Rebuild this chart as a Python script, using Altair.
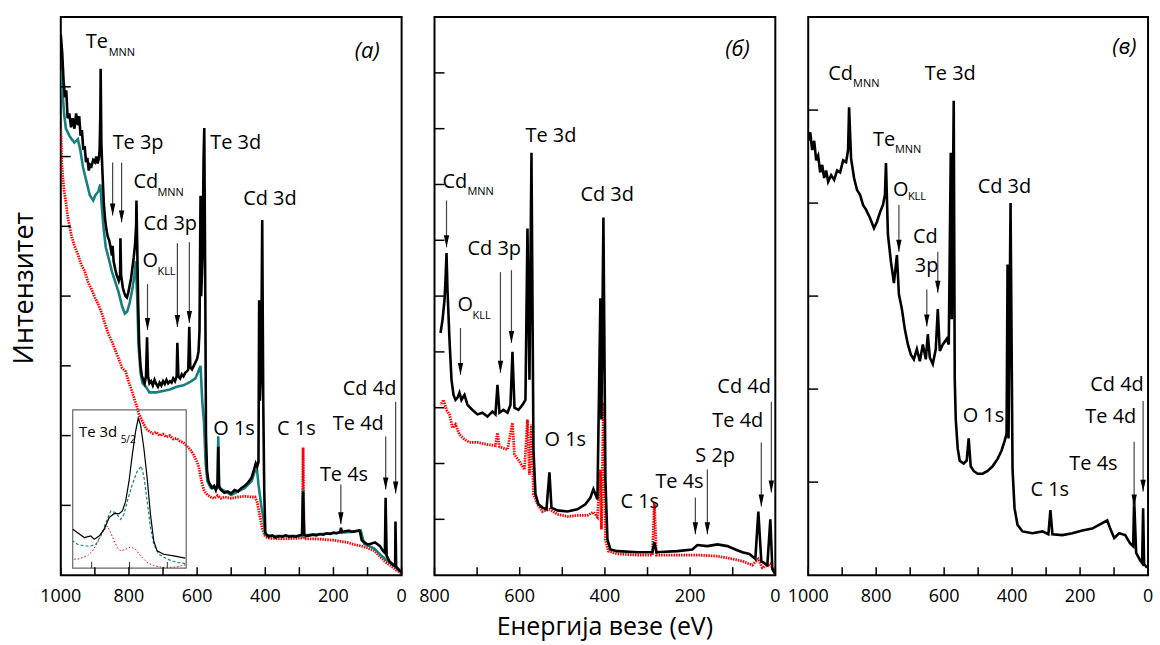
import altair as alt
import pandas as pd

# ---------------- survey spectra: (binding energy / eV, intensity / a.u.) ----------------
# panel (а): three samples
A_BLACK = [(1000,7.75),(996,7.5),(992,7.1),(988,6.85),(984,6.95),(980,6.55),(975,6.62),(970,6.42),(965,6.55),
           (960,6.40),(955,6.62),(950,6.45),(946,6.58),(942,6.30),(938,6.38),(934,6.10),(930,6.15),(926,5.92),
           (922,5.98),(918,5.80),(914,5.88),(910,5.86),(905,5.95),(900,5.92),(896,6.0),(892,5.90),(888,5.98),
           (886,6.1),(884,6.6),(883,7.26),(881,6.2),(878,5.8),(874,5.35),(870,5.1),(866,4.95),(862,4.85),
           (858,4.80),(854,4.70),(850,4.58),(848,4.72),(845,4.50),(840,4.38),(836,4.30),(830,4.22),(826,4.30),
           (825,4.83),(823,4.30),(818,4.12),(814,4.05),(810,4.0),(806,3.98),(802,4.05),(798,4.15),(794,4.25),
           (790,4.40),(786,4.55),(782,4.75),(779,5.0),(778,5.37),(776,4.8),(773,3.9),(770,3.3),(766,3.0),
           (762,2.85),(758,2.80),(754,2.75),(750,2.85),(747,3.41),(744,2.85),(740,2.75),(735,2.78),(730,2.72),
           (725,2.80),(720,2.74),(715,2.70),(710,2.76),(705,2.72),(700,2.78),(695,2.74),(690,2.80),(685,2.75),
           (680,2.78),(675,2.76),(670,2.82),(665,2.78),(660,2.85),(658,3.33),(655,2.85),(650,2.82),(645,2.88),
           (640,2.85),(635,2.90),(630,2.92),(626,2.95),(623,3.56),(620,2.98),(615,2.95),(610,3.00),(605,3.05),
           (600,3.10),(596,3.20),(593,3.5),(590,5.44),(588,4.0),(584,4.6),(581,6.0),(579,6.41),(576,4.0),
           (574,2.0),(571,1.5),(567,1.35),(562,1.30),(556,1.25),(550,1.28),(545,1.22),(540,1.30),(538,1.84),
           (536,1.28),(530,1.22),(520,1.18),(510,1.20),(500,1.17),(490,1.22),(480,1.20),(470,1.25),(460,1.28),
           (450,1.33),(440,1.40),(432,1.53),(428,1.60),(424,1.55),(420,1.62),(418,3.94),(416,2.5),(412,3.0),
           (409,5.09),(406,2.5),(403,1.2),(400,0.61),(396,0.58),(390,0.55),(380,0.57),(370,0.54),(360,0.56),
           (350,0.55),(340,0.57),(330,0.55),(320,0.56),(310,0.55),(300,0.57),(292,0.58),(289,1.20),(286,0.58),
           (280,0.56),(270,0.57),(260,0.58),(250,0.57),(240,0.59),(230,0.58),(220,0.60),(210,0.59),(200,0.61),
           (190,0.60),(180,0.62),(178,0.68),(175,0.62),(165,0.63),(155,0.64),(145,0.62),(135,0.63),(125,0.64),
           (122,0.62),(117,0.50),(100,0.44),(90,0.45),(78,0.47),(64,0.42),(55,0.35),(49,0.32),(47,1.11),
           (44,0.28),(36,0.20),(25,0.15),(19,0.13),(18,0.77),(16,0.12),(8,0.08),(1,0.04)]
A_TEAL = [(1000,7.23),(996,7.0),(990,6.6),(985,6.4),(980,6.35),(975,6.3),(968,6.25),(960,6.2),(950,6.25),
          (943,6.1),(935,5.85),(925,5.65),(915,5.45),(905,5.37),(898,5.45),(890,5.5),(884,5.6),(880,5.3),
          (874,4.95),(868,4.7),(860,4.55),(850,4.35),(840,4.2),(830,4.05),(820,3.85),(812,3.75),(805,3.78),
          (798,3.9),(790,4.1),(784,4.3),(780,4.5),(776,4.0),(772,3.3),(766,2.9),(760,2.75),(750,2.7),
          (740,2.62),(720,2.62),(700,2.64),(680,2.66),(660,2.7),(640,2.72),(620,2.77),(605,2.82),(598,2.9),
          (590,3.0),(585,2.5),(580,2.2),(575,1.6),(570,1.35),(560,1.25),(540,1.25),(538,1.99),(535,1.25),
          (500,1.15),(460,1.25),(440,1.35),(430,1.5),(424,1.5),(420,1.3),(412,1.0),(405,0.8),(400,0.58),
          (380,0.56),(300,0.56),(292,0.57),(289,1.23),(286,0.57),(200,0.6),(150,0.62),(120,0.64),(110,0.45),
          (80,0.38),(60,0.28),(40,0.2),(20,0.12),(5,0.05)]
A_RED = [(1000,6.4),(997,5.9),(994,5.7),(990,5.5),(985,5.35),(980,5.15),(975,5.02),(968,4.85),(960,4.72),
         (950,4.6),(940,4.45),(930,4.36),(920,4.2),(910,4.1),(900,3.98),(890,3.88),(880,3.76),(870,3.6),
         (860,3.45),(850,3.35),(840,3.22),(830,3.1),(820,2.97),(810,2.92),(800,2.76),(790,2.62),(780,2.46),
         (770,2.3),(760,2.2),(750,2.1),(740,2.06),(730,2.03),(720,2.05),(710,2.0),(700,2.02),(690,1.98),
         (680,2.0),(670,1.95),(660,1.96),(650,1.92),(640,1.9),(630,1.85),(620,1.8),(610,1.72),(600,1.62),
         (595,1.55),(590,1.42),(585,1.3),(580,1.22),(575,1.18),(570,1.15),(560,1.12),(550,1.1),(540,1.14),
         (530,1.1),(520,1.12),(500,1.1),(480,1.12),(460,1.13),(440,1.12),(430,1.12),(424,1.05),(420,0.95),
         (416,0.85),(412,0.75),(408,0.65),(404,0.6),(400,0.55),(390,0.53),(350,0.52),(300,0.53),(292,0.53),
         (289,1.83),(286,0.52),(250,0.52),(200,0.5),(160,0.47),(140,0.44),(120,0.42),(100,0.39),(80,0.35),
         (60,0.25),(45,0.18),(30,0.13),(15,0.07),(1,0.03)]

# panel (б): two samples
B_BLACK = [(785.9,4.34),(781.2,4.57),(776.5,4.93),(774.2,5.29),(771.8,5.77),(769.5,5.11),(764.8,4.21),
           (760.1,3.50),(755.4,3.23),(750.7,3.14),(746.0,3.18),(741.4,3.27),(736.7,3.14),(729.6,3.23),
           (722.6,3.05),(710.9,2.96),(699.1,2.88),(687.4,2.91),(675.7,2.84),(663.9,2.93),(656.9,2.88),
           (652.2,3.41),(647.5,2.91),(638.1,2.96),(628.7,2.91),(621.7,3.05),(617.0,4.00),(612.3,3.00),
           (603.0,2.96),(593.6,3.05),(586.5,3.14),(581.8,6.21),(577.1,3.50),(572.4,7.57),(567.7,2.25),
           (563.0,1.45),(556.0,1.27),(546.6,1.21),(537.2,1.18),(530.2,1.84),(525.5,1.21),(511.4,1.16),
           (488.0,1.14),(464.5,1.18),(445.8,1.27),(434.0,1.39),(427.0,1.54),(422.3,1.45),(417.6,1.36),
           (410.6,4.96),(408.2,2.79),(403.5,6.41),(398.8,1.71),(394.1,0.64),(387.1,0.46),(370.7,0.43),
           (323.8,0.41),(288.6,0.41),(283.9,0.59),(279.2,0.41),(229.9,0.43),(194.7,0.46),(183.0,0.54),
           (159.5,0.52),(135.9,0.55),(112.5,0.52),(93.8,0.46),(77.4,0.41),(60.9,0.38),(46.9,0.29),
           (39.9,1.14),(32.9,0.25),(18.8,0.18),(11.7,1.00),(7.0,0.11),(0,0.02)]
B_RED = [(785.9,3.05),(778.9,3.14),(771.8,2.96),(764.8,2.88),(757.8,2.64),(750.7,2.70),(741.4,2.52),
         (729.6,2.43),(717.9,2.38),(699.1,2.38),(675.7,2.34),(656.9,2.32),(652.2,2.55),(647.5,2.30),
         (628.7,2.25),(617.0,2.73),(612.3,2.16),(600.6,2.04),(588.9,1.89),(581.8,2.79),(577.1,1.80),
         (572.4,2.70),(567.7,1.45),(558.4,1.27),(546.6,1.14),(530.2,1.18),(511.4,1.09),(488.0,1.05),
         (464.5,1.07),(441.1,1.07),(427.0,1.13),(417.6,1.04),(410.6,1.89),(408.2,0.82),(403.5,3.09),
         (398.8,0.64),(392.0,0.43),(370.7,0.38),(323.8,0.36),(288.6,0.36),(283.9,1.30),(279.2,0.36),
         (229.9,0.36),(183.0,0.36),(135.9,0.34),(100.8,0.29),(77.4,0.25),(53.9,0.18),(39.9,0.29),
         (30.5,0.13),(11.7,0.20),(0,0.02)]

# panel (в): one sample
C_BLACK = [(1000,4.67),(994.1,4.76),(988.3,4.57),(982.4,4.67),(976.5,4.46),(970.7,4.51),(964.8,4.33),
           (958.9,4.41),(953.1,4.27),(947.2,4.35),(941.3,4.23),(932.5,4.30),(923.7,4.25),(914.9,4.35),
           (906.1,4.33),(897.3,4.46),(888.5,4.44),(882.7,4.57),(879.7,5.03),(873.9,4.48),(865.1,4.27),
           (856.3,4.14),(847.5,4.09),(838.7,3.98),(829.9,3.93),(818.2,3.84),(806.4,3.73),(797.6,3.80),
           (788.8,3.90),(780.0,3.98),(774.2,4.09),(771.2,4.43),(765.4,3.66),(756.6,3.37),(747.8,3.14),
           (739.0,3.44),(733.1,3.02),(724.3,2.86),(715.5,2.64),(706.7,2.48),(697.9,2.37),(689.1,2.32),
           (680.3,2.43),(671.5,2.30),(662.7,2.48),(653.9,2.32),(648.1,2.59),(642.2,2.34),(633.4,2.27),
           (624.6,2.43),(618.7,2.86),(612.8,2.41),(604.0,2.48),(592.3,2.54),(586.4,2.48),(580.5,4.54),
           (577.6,2.75),(571.8,5.10),(568.8,2.11),(565.9,1.68),(560.0,1.36),(554.2,1.23),(542.5,1.20),
           (533.7,1.23),(527.8,1.47),(521.9,1.17),(513.1,1.12),(501.4,1.09),(486.7,1.09),(472.1,1.12),
           (457.4,1.17),(442.7,1.25),(431.0,1.34),(422.2,1.44),(416.3,1.52),(413.4,3.34),(410.5,1.47),
           (404.6,4.00),(398.7,1.14),(392.9,0.72),(384.1,0.54),(369.4,0.47),(340.1,0.45),(310.8,0.47),
           (293.2,0.44),(287.3,0.70),(281.4,0.44),(252.1,0.43),(222.7,0.45),(193.4,0.48),(164.1,0.50),
           (134.8,0.56),(120.1,0.59),(111.3,0.50),(99.6,0.40),(84.9,0.45),(67.3,0.43),(52.6,0.34),
           (43.8,0.31),(40.9,0.82),(35.0,0.24),(23.3,0.16),(17.4,0.13),(14.5,0.72),(11.6,0.12),(2.8,0.08)]

# inset of panel (а): Te 3d5/2 high-resolution region (energy / eV, normalised intensity)
INSET_BLACK = [(580.0,0.245),(579.48,0.224),(578.78,0.193),(578.08,0.203),(577.73,0.182),(577.20,0.203),
               (576.68,0.245),(576.15,0.319),(575.63,0.344),(575.10,0.344),(574.75,0.361),(574.40,0.423),
               (574.05,0.549),(573.70,0.717),(573.35,0.864),(573.07,0.948),(572.83,0.906),(572.48,0.759),
               (572.13,0.570),(571.78,0.340),(571.43,0.172),(571.08,0.109),(570.38,0.088),(569.33,0.078),
               (568.10,0.063)]
INSET_TEAL = [(580.0,0.172),(579.48,0.151),(578.78,0.140),(578.08,0.140),(577.55,0.151),(577.03,0.203),
              (576.50,0.287),(575.98,0.361),(575.45,0.350),(574.93,0.308),(574.58,0.340),(574.23,0.423),
              (573.70,0.528),(573.18,0.612),(572.76,0.644),(572.48,0.581),(572.13,0.423),(571.78,0.256),
              (571.43,0.151),(570.90,0.088),(570.03,0.057),(568.98,0.036),(568.10,0.029)]
INSET_RED = [(580.0,0.057),(579.48,0.057),(578.95,0.067),(578.43,0.078),(577.90,0.109),(577.38,0.161),
             (576.85,0.224),(576.33,0.266),(575.98,0.224),(575.63,0.172),(575.28,0.130),(574.93,0.109),
             (574.40,0.119),(573.88,0.134),(573.35,0.119),(572.83,0.078),(572.13,0.036),(571.43,0.015),
             (570.73,0.008),(570.03,0.004),(568.98,0.008),(568.10,0.021)]
INSET_E = [580, 568]          # inset energy range
INSET_I = [0, 1]              # inset intensity range
INSET_TICKS = [578, 574, 570]
# where the inset frame sits inside panel (а), in that panel's own units
INSET_BOX_E = [965, 632]
INSET_BOX_I = [0.10, 2.37]

# ---------------- axis tick values ----------------
A_XLABELS = [1000, 800, 600, 400, 200, 0]
B_XLABELS = [800, 600, 400, 200, 0]
C_XLABELS = [1000, 800, 600, 400, 200, 0]

# ---------------- peak labels (energy, intensity, text) and arrows (energy, from, to) ----------------
A_LABELS = [(926.9,7.557,"Te"),(847.9,6.114,"Te 3p"),(786.5,5.543,"Cd"),(757.3,4.943,"Cd 3p"),
            (760.2,4.414,"O"),(561.4,6.114,"Te 3d"),(464.9,5.3,"Cd 3d"),(552.6,2.014,"O 1s"),
            (365.5,2.014,"C 1s"),(239.8,1.343,"Te 4s"),(201.7,2.086,"Te 4d"),(172.5,2.586,"Cd 4d")]
A_SUBS = [(859.6,7.443,"MNN"),(716.4,5.429,"MNN"),(716.4,4.30,"KLL")]
A_TAG = [(137.4,7.414,"(а)")]
A_ARROWS = [(847.9,5.914,5.157),(821.6,5.914,5.057),(745.6,4.171,3.514),(657.9,4.757,3.557),
            (622.8,4.771,3.614),(178.3,1.30,0.729),(46.7,1.986,1.229),(17.5,2.486,1.171)]

B_LABELS = [(781.2,6.929,"Cd"),(586.5,7.768,"Te 3d"),(457.5,6.696,"Cd 3d"),(722.6,5.732,"Cd 3p"),
            (746.0,4.732,"O"),(541.9,2.321,"O 1s"),(363.6,1.196,"C 1s"),(281.5,1.554,"Te 4s"),
            (187.7,2.036,"S 2p"),(147.8,2.661,"Te 4d"),(136.1,3.268,"Cd 4d")]
B_SUBS = [(722.6,6.804,"MNN"),(710.9,4.589,"KLL")]
B_TAG = [(117.3,9.304,"(б)")]
B_ARROWS = [(771.8,6.714,5.875),(739.0,4.429,3.589),(645.2,5.429,3.625),(619.4,5.464,4.161),
            (187.7,1.393,0.732),(159.5,1.893,0.732),(32.9,2.375,1.232),(9.4,3.107,1.482)]

C_LABELS = [(941.3,5.326,"Cd"),(656.8,5.326,"Te 3d"),(809.4,4.610,"Te"),(750.7,4.075,"O"),
            (501.4,4.107,"Cd 3d"),(692.0,3.572,"Cd"),(686.2,3.262,"3p"),(545.4,1.647,"O 1s"),
            (345.9,0.856,"C 1s"),(231.6,1.134,"Te 4s"),(184.6,1.636,"Te 4d"),(170.0,1.979,"Cd 4d")]
C_SUBS = [(868.0,5.251,"MNN"),(744.8,4.535,"MNN"),(706.7,4.032,"KLL")]
C_TAG = [(105.4,5.604,"(в)")]
C_ARROWS = [(733.1,3.979,3.476),(651.0,3.070,2.674),(618.7,3.476,3.037),(40.9,1.433,0.738),(14.5,1.872,0.898)]

X_TITLE = "Енергија везе (eV)"
Y_TITLE = "Интензитет"

FONT = "Open Sans"
PLOT_H = 560


def df(rows, cols):
    return pd.DataFrame(rows, columns=cols)


def xenc(field, dom):
    return alt.X(field, type="quantitative", scale=alt.Scale(domain=dom, nice=False, zero=False), axis=None)


def yenc(field, dom):
    return alt.Y(field, type="quantitative", scale=alt.Scale(domain=dom, nice=False, zero=False), axis=None)


def to_box(chart, ifields=("I",)):
    """Map inset (energy, intensity) onto panel (а) units inside the inset frame."""
    e0, e1 = INSET_E
    i0, i1 = INSET_I
    b0, b1 = INSET_BOX_E
    c0, c1 = INSET_BOX_I
    calc = {"Ex": f"{b0} + (datum.E - {e0}) / ({e1} - {e0}) * ({b1} - {b0})"}
    for f in ifields:
        calc[f + "y"] = f"{c0} + (datum.{f} - {i0}) / ({i1} - {i0}) * ({c1} - {c0})"
    return chart.transform_calculate(**calc)


def inset_layers(xdom, ydom):
    layers = []
    box = alt.Chart(df([(INSET_BOX_E[0], INSET_BOX_E[1], INSET_BOX_I[0], INSET_BOX_I[1])],
                       ["E", "E2", "I", "I2"])).mark_rect(
        fillOpacity=0, stroke="#666666", strokeWidth=1.2).encode(
        x=xenc("E", xdom), x2="E2:Q", y=yenc("I", ydom), y2="I2:Q")
    layers.append(box)
    tk = to_box(alt.Chart(df([(t, 0.0, 0.04) for t in INSET_TICKS], ["E", "I", "J"])), ("I", "J"))
    layers.append(tk.mark_rule(color="#333333", strokeWidth=1).encode(
        x=xenc("Ex", xdom), y=yenc("Iy", ydom), y2="Jy:Q"))
    styles = [(INSET_RED, "#e00000", 1.0, [1.5, 2]), (INSET_TEAL, "#17807e", 1.2, [3, 2]),
              (INSET_BLACK, "black", 1.2, None)]
    for rows, color, w, dash in styles:
        kw = dict(color=color, strokeWidth=w)
        if dash:
            kw["strokeDash"] = dash
        layers.append(to_box(alt.Chart(df(rows, ["E", "I"]))).mark_line(**kw).encode(
            x=xenc("Ex", xdom), y=yenc("Iy", ydom), order="Ex:Q"))
    layers.append(to_box(alt.Chart(df([(579.34, 0.830, "Te 3d")], ["E", "I", "text"]))).mark_text(
        align="left", baseline="alphabetic", font=FONT, fontSize=15, color="black").encode(
        x=xenc("Ex", xdom), y=yenc("Iy", ydom), text="text:N"))
    layers.append(to_box(alt.Chart(df([(574.93, 0.790, "5/2")], ["E", "I", "text"]))).mark_text(
        align="left", baseline="alphabetic", font=FONT, fontSize=10, color="black").encode(
        x=xenc("Ex", xdom), y=yenc("Iy", ydom), text="text:N"))
    return layers


def panel(spectra, labels, subs, tag, arrows, xlabels, emax, imax, width,
          xtitle=None, ytitle=None, with_inset=False):
    xdom = [emax, 0]
    ydom = [0, imax]
    layers = []
    for rows, color, width_line, dash in spectra:
        kw = dict(color=color, strokeWidth=width_line, clip=True)
        if dash:
            kw["strokeDash"] = dash
        layers.append(alt.Chart(df(rows, ["E", "I"])).mark_line(**kw).encode(
            x=xenc("E", xdom), y=yenc("I", ydom), order=alt.Order("E:Q")))
    if with_inset:
        layers.extend(inset_layers(xdom, ydom))
    # inward ticks along the bottom and left edges
    layers.append(alt.Chart(df([(v,) for v in range(0, emax + 1, 100)], ["E"])).mark_rule(
        color="black", strokeWidth=1.5).encode(
        x=xenc("E", xdom), y=alt.value(PLOT_H), y2=alt.value(PLOT_H - 8)))
    layers.append(alt.Chart(df([(v,) for v in range(1, imax)], ["I"])).mark_rule(
        color="black", strokeWidth=1.5).encode(
        y=yenc("I", ydom), x=alt.value(0), x2=alt.value(10)))
    # energy tick labels below the frame
    layers.append(alt.Chart(df([(v, str(v)) for v in xlabels], ["E", "text"])).mark_text(
        align="center", baseline="alphabetic", font=FONT, fontSize=18, color="black").encode(
        x=xenc("E", xdom), y=alt.value(PLOT_H + 27), text="text:N"))
    if xtitle:
        layers.append(alt.Chart(df([(xtitle,)], ["text"])).mark_text(
            align="center", baseline="alphabetic", font=FONT, fontSize=25, color="black").encode(
            x=alt.value(width / 2), y=alt.value(PLOT_H + 60), text="text:N"))
    if ytitle:
        layers.append(alt.Chart(df([(ytitle,)], ["text"])).mark_text(
            align="center", baseline="middle", font=FONT, fontSize=27, angle=270,
            color="black").encode(x=alt.value(-36), y=alt.value(PLOT_H / 2 - 8), text="text:N"))
    # arrows pointing at the peaks
    adf = df(arrows, ["E", "top", "tip"])
    layers.append(alt.Chart(adf).mark_rule(color="#444444", strokeWidth=1.2).encode(
        x=xenc("E", xdom), y=yenc("top", ydom), y2="tip:Q"))
    layers.append(alt.Chart(adf).mark_point(
        shape="M-0.45,-1L0.45,-1L0,1Z", filled=True, size=144, color="black", opacity=1,
        yOffset=-6).encode(x=xenc("E", xdom), y=yenc("tip", ydom)))
    # peak names, subscripts and panel tag
    layers.append(alt.Chart(df(labels, ["E", "I", "text"])).mark_text(
        align="left", baseline="alphabetic", font=FONT, fontSize=20, color="black").encode(
        x=xenc("E", xdom), y=yenc("I", ydom), text="text:N"))
    layers.append(alt.Chart(df(subs, ["E", "I", "text"])).mark_text(
        align="left", baseline="alphabetic", font=FONT, fontSize=11, color="black").encode(
        x=xenc("E", xdom), y=yenc("I", ydom), text="text:N"))
    layers.append(alt.Chart(df(tag, ["E", "I", "text"])).mark_text(
        align="left", baseline="alphabetic", font=FONT, fontSize=22, fontStyle="italic",
        color="black").encode(x=xenc("E", xdom), y=yenc("I", ydom), text="text:N"))
    return alt.layer(*layers).properties(width=width, height=PLOT_H)


panel_a = panel([(A_RED, "#ff0000", 2.8, [1.5, 1]), (A_TEAL, "#17807e", 2.6, None), (A_BLACK, "black", 2.6, None)],
                A_LABELS, A_SUBS, A_TAG, A_ARROWS, A_XLABELS, 1000, 8, 342,
                ytitle=Y_TITLE, with_inset=True)

panel_b = panel([(B_RED, "#ff0000", 2.8, [1.5, 1]), (B_BLACK, "black", 2.6, None)],
                B_LABELS, B_SUBS, B_TAG, B_ARROWS, B_XLABELS, 800, 10, 342,
                xtitle=X_TITLE)

panel_c = panel([(C_BLACK, "black", 2.6, None)],
                C_LABELS, C_SUBS, C_TAG, C_ARROWS, C_XLABELS, 1000, 6, 341)

chart = alt.hconcat(panel_a, panel_b, panel_c, spacing=33, bounds="flush").properties(
    padding={"left": 10, "top": 15, "right": 5, "bottom": 5},
    background="white",
).configure_view(stroke="black", strokeWidth=2)

chart.save("out.html", embed_options={"renderer": "svg", "actions": False})
